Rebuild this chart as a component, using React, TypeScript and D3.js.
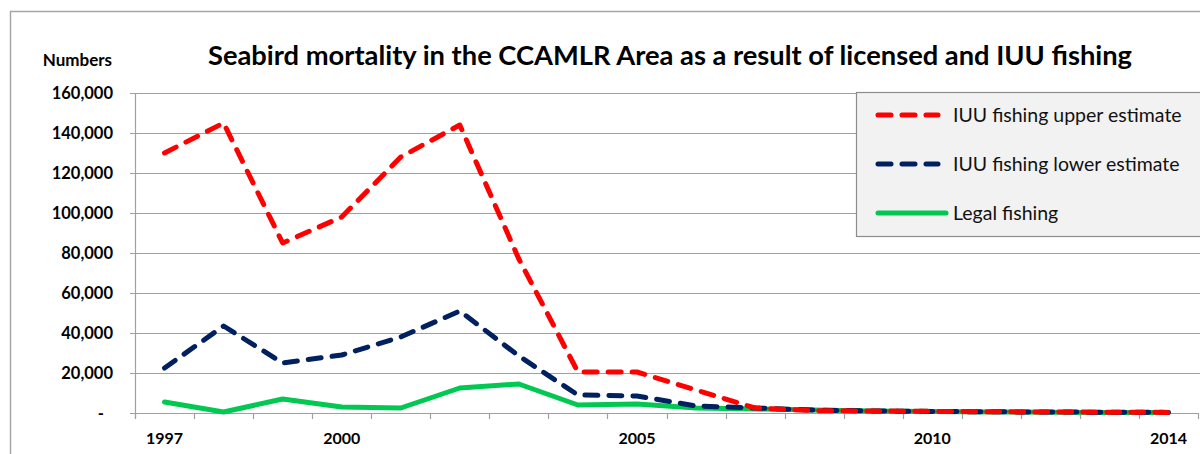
import React, { useEffect, useRef } from "react";
import * as d3 from "d3";

// values
const years = d3.range(1997, 2015).map(String);
const iuuUpper = [130000, 145000, 85000, 98000, 128000, 144000, 77000, 20500, 20500, 11500, 2500, 1200, 1000, 800, 600, 500, 400, 300];
const iuuLower = [22500, 43500, 25000, 29000, 38000, 51000, 28500, 9000, 8500, 3500, 2500, 1500, 1000, 800, 600, 500, 400, 300];
const legal = [5500, 500, 7000, 3000, 2500, 12500, 14500, 4000, 4500, 2500, 2000, 1500, 1000, 700, 500, 400, 300, 200];
const yTicks = [0, 20000, 40000, 60000, 80000, 100000, 120000, 140000, 160000];
const xLabels = ["1997", "2000", "2005", "2010", "2014"];

const seriesNames = ["IUU fishing upper estimate", "IUU fishing lower estimate", "Legal fishing"];
const seriesColors = ["#ff0000", "#002060", "#00c851"];

const FONT = "Lato, 'Open Sans', sans-serif";

export default function App() {
  const ref = useRef<SVGSVGElement>(null);

  useEffect(() => {
    const svg = d3.select(ref.current);
    svg.selectAll("*").remove();

    const W = 1200;
    const left = 135, right = 1198, top = 93, bottom = 413;

    // outer chart border (cut by the picture on right and bottom)
    svg.append("rect")
      .attr("x", 10.5).attr("y", 11.5)
      .attr("width", 1250).attr("height", 500)
      .attr("fill", "#fff").attr("stroke", "#a6a6a6").attr("stroke-width", 1.5);

    const x = d3.scaleBand().domain(years).range([left, right]).padding(0);
    const cx = (d: string) => (x(d) as number) + x.bandwidth() / 2;
    const y = d3.scaleLinear().domain([0, 160000]).range([bottom, top]);

    // gridlines
    svg.append("g").selectAll("line").data(yTicks.filter(v => v > 0)).enter()
      .append("line")
      .attr("x1", left - 5).attr("x2", W)
      .attr("y1", d => Math.round(y(d)) + 0.5).attr("y2", d => Math.round(y(d)) + 0.5)
      .attr("stroke", "#a0a0a0").attr("stroke-width", 1.2);

    // axes
    svg.append("line")
      .attr("x1", left + 0.5).attr("x2", left + 0.5).attr("y1", top).attr("y2", bottom + 5)
      .attr("stroke", "#a0a0a0").attr("stroke-width", 1.2);
    svg.append("line")
      .attr("x1", left - 5).attr("x2", right).attr("y1", bottom + 0.5).attr("y2", bottom + 0.5)
      .attr("stroke", "#a0a0a0").attr("stroke-width", 1.2);

    // x ticks between categories
    const tickXs = years.map(d => x(d) as number).concat([right]);
    svg.append("g").selectAll("line").data(tickXs).enter()
      .append("line")
      .attr("x1", d => Math.round(d) + 0.5).attr("x2", d => Math.round(d) + 0.5)
      .attr("y1", bottom).attr("y2", bottom + 6)
      .attr("stroke", "#a0a0a0").attr("stroke-width", 1.2);

    // y tick labels
    const fmt = d3.format(",");
    svg.append("g").selectAll("text").data(yTicks).enter()
      .append("text")
      .attr("x", d => (d === 0 ? 104 : 113))
      .attr("y", d => y(d) + 6)
      .attr("text-anchor", "end")
      .attr("font-family", FONT).attr("font-weight", 700).attr("font-size", 16.5)
      .text(d => (d === 0 ? "-" : fmt(d)));

    // x tick labels
    svg.append("g").selectAll("text").data(xLabels).enter()
      .append("text")
      .attr("x", d => cx(d)).attr("y", 444)
      .attr("text-anchor", "middle")
      .attr("font-family", FONT).attr("font-weight", 700).attr("font-size", 16)
      .text(d => d);

    svg.append("text")
      .attr("x", 112).attr("y", 66).attr("text-anchor", "end")
      .attr("font-family", FONT).attr("font-weight", 700).attr("font-size", 17)
      .text("Numbers");

    svg.append("text")
      .attr("x", 670).attr("y", 65).attr("text-anchor", "middle")
      .attr("font-family", FONT).attr("font-weight", 700).attr("font-size", 27.3)
      .text("Seabird mortality in the CCAMLR Area as a result of licensed and IUU fishing");

    // lines
    const line = d3.line<number>()
      .x((_, i) => cx(years[i]))
      .y(d => y(d));
    const allSeries = [legal, iuuLower, iuuUpper];
    const order = [2, 1, 0];
    allSeries.forEach((vals, k) => {
      const s = order[k];
      svg.append("path")
        .datum(vals)
        .attr("d", line)
        .attr("fill", "none")
        .attr("stroke", seriesColors[s])
        .attr("stroke-width", 5)
        .attr("stroke-linecap", "round")
        .attr("stroke-linejoin", "round")
        .attr("stroke-dasharray", s === 2 ? null : "13,11");
    });

    // legend
    const lg = svg.append("g");
    lg.append("rect")
      .attr("x", 856.5).attr("y", 92.5).attr("width", 400).attr("height", 144)
      .attr("fill", "#f2f2f2").attr("stroke", "#8c8c8c").attr("stroke-width", 1.2);
    const legendY = [115, 164, 213];
    seriesNames.forEach((name, i) => {
      lg.append("line")
        .attr("x1", 878).attr("x2", i === 2 ? 946 : 938)
        .attr("y1", legendY[i]).attr("y2", legendY[i])
        .attr("stroke", seriesColors[i]).attr("stroke-width", 5)
        .attr("stroke-linecap", "round")
        .attr("stroke-dasharray", i === 2 ? null : "13,11");
      lg.append("text")
        .attr("x", 953).attr("y", legendY[i] + 7)
        .attr("font-family", FONT).attr("font-size", 19.5).attr("fill", "#111")
        .text(name);
    });
  }, []);

  return (
    <svg
      ref={ref}
      width={1200}
      height={454}
      style={{ position: "absolute", left: 0, top: 0, background: "#fff" }}
    />
  );
}
